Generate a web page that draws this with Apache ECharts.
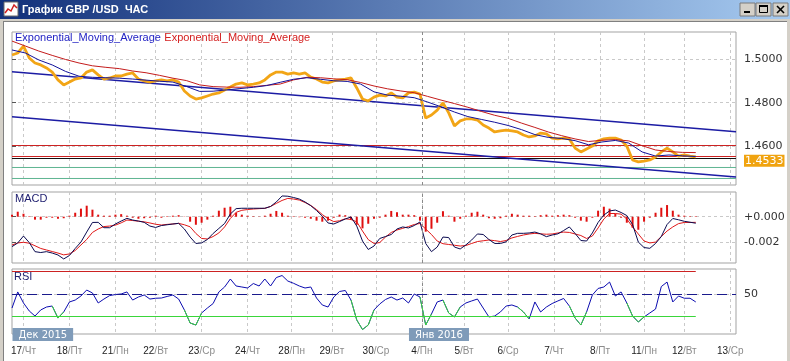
<!DOCTYPE html>
<html><head><meta charset="utf-8">
<script src="https://cdn.jsdelivr.net/npm/echarts@6/dist/echarts.min.js"></script>
<style>html,body{margin:0;padding:0;background:#fff}#c{width:790px;height:361px}</style>
</head><body><div id="c"></div>
<script>
// ---------- DATA ----------
const xMax = 378; // hourly bars covered by the plot width
const dayIdx   = [6,30,54,75,99,123,146,167,190,214,236,259,283,307,330,351,375];
const dayNums  = ['17','18','21','22','23','24','28','29','30','4','5','6','7','8','11','12','13'];
const dayNames = ['Чт','Пт','Пн','Вт','Ср','Чт','Пн','Вт','Ср','Пн','Вт','Ср','Чт','Пт','Пн','Вт','Ср'];
const monthLineIdx = 214;
const monthLabels = ['Дек 2015','Янв 2016'];
const monthBoxIdx = [0, 207];

const priceStep = 3;
const price = [
 1.5020,1.5029,1.5061,1.5006,1.4983,1.4974,1.4960,1.4941,1.4905,1.4882,
 1.4895,1.4909,1.4914,1.4941,1.4951,1.4928,1.4909,1.4914,1.4923,1.4923,
 1.4932,1.4937,1.4909,1.4900,1.4895,1.4900,1.4905,1.4900,1.4905,1.4895,
 1.4854,1.4831,1.4817,1.4822,1.4831,1.4840,1.4845,1.4859,1.4872,1.4886,
 1.4891,1.4882,1.4886,1.4891,1.4905,1.4928,1.4941,1.4941,1.4932,1.4937,
 1.4932,1.4937,1.4918,1.4909,1.4895,1.4891,1.4900,1.4905,1.4909,1.4914,
 1.4868,1.4817,1.4808,1.4826,1.4835,1.4831,1.4845,1.4826,1.4822,1.4845,
 1.4849,1.4840,1.4729,1.4743,1.4766,1.4799,1.4753,1.4693,1.4716,1.4725,
 1.4725,1.4720,1.4697,1.4683,1.4665,1.4670,1.4674,1.4670,1.4665,1.4651,
 1.4642,1.4647,1.4660,1.4656,1.4637,1.4633,1.4637,1.4633,1.4591,1.4573,
 1.4587,1.4600,1.4624,1.4633,1.4637,1.4637,1.4628,1.4600,1.4536,1.4527,
 1.4531,1.4536,1.4550,1.4573,1.4591,1.4573,1.4554,1.4559,1.4554,1.4550];

const emaStep = 7;
const emaFast = [
 1.5043,1.5029,1.4997,1.4974,1.4944,1.4922,1.4917,1.4915,1.4913,1.4909,
 1.4904,1.4899,1.4895,1.4875,1.4852,1.4853,1.4859,1.4865,1.4871,1.4879,
 1.4894,1.4908,1.4915,1.4908,1.4901,1.4898,1.4886,1.4850,1.4835,1.4830,
 1.4823,1.4803,1.4781,1.4757,1.4736,1.4723,1.4710,1.4695,1.4676,1.4653,
 1.4640,1.4635,1.4625,1.4606,1.4619,1.4626,1.4614,1.4573,1.4554,1.4559,
 1.4555,1.4552];
const emaSlow = [
 1.5084,1.5061,1.5038,1.5018,1.4999,1.4983,1.4970,1.4963,1.4957,1.4946,
 1.4938,1.4926,1.4913,1.4902,1.4882,1.4874,1.4872,1.4871,1.4874,1.4880,
 1.4886,1.4905,1.4917,1.4915,1.4910,1.4906,1.4893,1.4877,1.4864,1.4854,
 1.4846,1.4829,1.4812,1.4796,1.4779,1.4760,1.4742,1.4728,1.4706,1.4686,
 1.4665,1.4648,1.4633,1.4621,1.4627,1.4630,1.4624,1.4602,1.4582,1.4575,
 1.4571,1.4570];

const trendX = [0, 378];
const trendUpper = [1.4943, 1.4666];
const trendLower = [1.4735, 1.4458];
const levelsRed = [1.46027, 1.45520];
const levelsBlack = [1.45428];
const levelsTeal = [1.45014, 1.44507];
const lastPrice = 1.4533;
const priceTicks = [1.46, 1.48, 1.50];
const priceRange = [1.44207, 1.51258];

const macdStep = 3;
const macdMain = [
 -0.00234,-0.00205,-0.00151,-0.00202,-0.00273,-0.00280,-0.00273,-0.00284,-0.00299,-0.00330,
 -0.00303,-0.00248,-0.00198,-0.00120,-0.00045,-0.00044,-0.00086,-0.00086,-0.00057,-0.00034,
 -0.00013,-0.00026,-0.00034,-0.00044,-0.00073,-0.00084,-0.00069,-0.00063,-0.00057,-0.00052,
 -0.00096,-0.00159,-0.00209,-0.00205,-0.00178,-0.00131,-0.00092,-0.00053,0.00021,0.00063,
 0.00066,0.00066,0.00066,0.00066,0.00066,0.00080,0.00115,0.00162,0.00160,0.00150,
 0.00138,0.00115,0.00086,0.00048,0.00005,-0.00049,-0.00057,-0.00038,-0.00018,-0.00002,
 -0.00073,-0.00190,-0.00256,-0.00229,-0.00170,-0.00155,-0.00139,-0.00096,-0.00080,-0.00088,
 -0.00069,-0.00041,-0.00209,-0.00273,-0.00237,-0.00159,-0.00163,-0.00237,-0.00252,-0.00220,
 -0.00182,-0.00135,-0.00139,-0.00178,-0.00209,-0.00209,-0.00196,-0.00143,-0.00130,-0.00130,
 -0.00127,-0.00120,-0.00134,-0.00156,-0.00143,-0.00134,-0.00108,-0.00080,-0.00131,-0.00186,
 -0.00190,-0.00127,-0.00045,0.00013,0.00045,0.00052,0.00033,0.00009,-0.00061,-0.00198,
 -0.00241,-0.00247,-0.00209,-0.00155,-0.00061,-0.00014,-0.00024,-0.00036,-0.00043,-0.00051];
const macdSignal = [
 -0.00221,-0.00205,-0.00200,-0.00207,-0.00227,-0.00248,-0.00260,-0.00272,-0.00284,-0.00298,
 -0.00291,-0.00264,-0.00221,-0.00178,-0.00123,-0.00096,-0.00077,-0.00073,-0.00066,-0.00048,
 -0.00026,-0.00030,-0.00035,-0.00040,-0.00049,-0.00059,-0.00065,-0.00060,-0.00057,-0.00052,
 -0.00063,-0.00079,-0.00131,-0.00170,-0.00174,-0.00155,-0.00127,-0.00080,-0.00014,0.00034,
 0.00050,0.00056,0.00060,0.00063,0.00065,0.00080,0.00104,0.00127,0.00143,0.00138,
 0.00130,0.00111,0.00088,0.00056,0.00017,-0.00016,-0.00038,-0.00032,-0.00016,-0.00022,
 -0.00040,-0.00112,-0.00179,-0.00209,-0.00202,-0.00159,-0.00123,-0.00104,-0.00091,-0.00077,
 -0.00061,-0.00053,-0.00096,-0.00139,-0.00190,-0.00211,-0.00217,-0.00223,-0.00229,-0.00225,
 -0.00209,-0.00194,-0.00188,-0.00182,-0.00187,-0.00194,-0.00186,-0.00166,-0.00154,-0.00143,
 -0.00135,-0.00130,-0.00134,-0.00137,-0.00135,-0.00127,-0.00120,-0.00123,-0.00135,-0.00147,
 -0.00170,-0.00151,-0.00088,-0.00018,0.00025,0.00025,0.00020,-0.00018,-0.00080,-0.00135,
 -0.00190,-0.00205,-0.00198,-0.00155,-0.00112,-0.00080,-0.00054,-0.00045,-0.00045,-0.00044];
const macdHist = [
 0.00016,0.00039,0.00023,0.00004,-0.00023,-0.00023,-0.00008,-0.00008,-0.00016,-0.00012,
 0.00008,0.00031,0.00063,0.00086,0.00055,0.00016,0.00008,0.00008,0.00016,0.00020,
 0.00008,-0.00008,-0.00016,-0.00012,-0.00008,0.00008,-0.00008,0.00004,0.00008,0.00012,
 0.00002,-0.00039,-0.00063,-0.00047,-0.00023,0.00008,0.00047,0.00070,0.00078,0.00031,
 0.00016,0.00008,0.00004,0.00002,0.00008,0.00023,0.00045,0.00031,0.00008,0.00004,
 -0.00004,-0.00008,-0.00016,-0.00031,-0.00039,-0.00031,-0.00008,0.00016,0.00012,-0.00023,
 -0.00063,-0.00091,-0.00055,-0.00016,-0.00008,0.00016,0.00045,0.00035,0.00016,0.00016,
 0.00012,-0.00031,-0.00117,-0.00094,-0.00047,0.00043,0.00008,-0.00039,-0.00016,0.00008,
 0.00031,0.00039,0.00016,-0.00012,-0.00016,-0.00012,0.00008,0.00023,0.00016,0.00008,
 0.00008,0.00004,0.00012,0.00016,0.00008,0.00012,0.00016,0.00012,-0.00008,-0.00031,
 -0.00039,-0.00008,0.00047,0.00078,0.00063,0.00023,-0.00008,-0.00047,-0.00086,-0.00102,
 -0.00039,-0.00008,0.00031,0.00070,0.00091,0.00047,0.00016,0.00008,0.00004,0.00004];
const macdTicks = [-0.002, 0];
const macdRange = [-0.003617, 0.00193];

const rsiStep = 3;
const rsi = [
 37.7,52.0,42.2,35.1,30.6,36.0,38.6,39.5,28.8,34.2,
 43.1,44.8,48.4,53.7,51.1,42.2,45.7,48.8,49.7,50.2,
 52.0,44.8,47.5,49.3,45.7,46.4,46.6,48.0,49.3,45.7,
 36.0,24.4,22.6,33.3,37.7,41.7,52.0,56.4,63.5,57.3,
 56.4,55.5,59.5,57.3,63.5,57.3,64.8,66.6,61.7,59.7,
 57.3,55.5,56.4,46.6,40.4,38.6,47.5,52.4,53.3,44.8,
 27.1,18.6,22.6,36.0,41.3,45.3,47.5,44.8,46.6,42.2,
 50.2,47.5,22.6,32.4,43.1,44.8,33.3,29.8,38.6,42.2,
 44.0,45.7,37.7,29.8,30.6,34.2,39.5,40.4,38.6,34.2,
 28.0,43.1,34.2,38.6,41.7,44.0,46.2,39.5,28.8,22.6,
 34.2,49.3,55.1,56.4,60.8,48.4,52.0,42.2,30.6,25.3,
 29.8,33.3,36.8,56.8,60.8,43.1,48.4,46.4,46.4,43.1];
const rsiGreenRanges = [[7,9],[30,33],[59,63],[71,73],[75,78],[88,90],[97,100],[107,110]];
const rsiHigh = 70, rsiMid = 50, rsiLow = 30;
const rsiTicks = [50];
const rsiRange = [14.62, 72.4];

// ---------- BUILD ----------
const toXY = (arr, step) => arr.map((v, i) => [i * step, v]);
const lastIdx = (price.length - 1) * priceStep;
const rsiGreen = rsi.map((v, i) => [i * rsiStep,
  rsiGreenRanges.some(r => i >= r[0] && i <= r[1]) ? v : null]);

const gridLine = {color: '#c9c9c9', type: [3, 3], width: 1};
const monthML = () => ({xAxis: monthLineIdx, lineStyle: {color: '#8a8a8a', type: [3, 3], width: 1}});
const axisFont = 'DejaVu Sans';

function xAxisCfg(gi, labels) {
  return {
    type: 'value', gridIndex: gi, min: 0, max: xMax,
    axisLine: {show: false},
    axisTick: {show: false, customValues: dayIdx},
    splitLine: {show: true, lineStyle: gridLine},
    axisLabel: labels ? {
      customValues: dayIdx, margin: 12,
      formatter: v => {
        const i = dayIdx.indexOf(Math.round(v));
        return i < 0 ? '' : '{d|' + dayNums[i] + '}{w|/' + dayNames[i] + '}';
      },
      rich: {
        d: {color: '#222', fontFamily: 'Liberation Sans', fontSize: 10},
        w: {color: '#8c8c8c', fontFamily: 'Liberation Sans', fontSize: 10}
      }
    } : {show: false}
  };
}
function yAxisCfg(gi, range, ticks, labelVals, fmt, rich) {
  return {
    type: 'value', gridIndex: gi, position: 'right', min: range[0], max: range[1],
    axisLine: {show: false},
    axisTick: {show: true, length: 4, customValues: ticks, lineStyle: {color: '#555'}},
    splitLine: {show: true, lineStyle: gridLine},
    axisLabel: {customValues: labelVals, margin: 8, color: '#333',
      fontFamily: axisFont, fontSize: 11, formatter: fmt, rich: rich}
  };
}
const lineS = (name, xi, data, color, width, z) => ({
  name, type: 'line', xAxisIndex: xi, yAxisIndex: xi, data, showSymbol: false,
  symbol: 'none', lineStyle: {color, width}, itemStyle: {color}, z: z || 2,
  silent: true, animation: false
});
const levelS = (v, color) => lineS('level', 0, trendX.map(x => [x, v]), color, 1, 1);

const chart = echarts.init(document.getElementById('c'), null, {width: 790, height: 361});

const priceSeries = lineS('price', 0, toXY(price, priceStep), '#f2a516', 2.8, 3);
priceSeries.markLine = {silent: true, symbol: 'none', label: {show: false}, animation: false, data: [monthML()]};
const macdMainS = lineS('macd', 1, toXY(macdMain, macdStep), '#0a0a50', 1, 4);
macdMainS.markLine = {silent: true, symbol: 'none', label: {show: false}, animation: false, data: [monthML()]};
const rsiS = lineS('rsi', 2, toXY(rsi, rsiStep), '#0c0cb0', 1, 4);
rsiS.markLine = {
  silent: true, symbol: 'none', label: {show: false}, animation: false,
  data: [
    [{coord: [0, rsiHigh], lineStyle: {color: '#cc2222', width: 1, type: 'solid'}}, {coord: [lastIdx, rsiHigh]}],
    [{coord: [0, rsiLow], lineStyle: {color: '#3ad63a', width: 1, type: 'solid'}}, {coord: [lastIdx, rsiLow]}],
    {yAxis: rsiMid, lineStyle: {color: '#1a1a8c', width: 1, type: [10, 5]}},
    monthML()
  ]
};
const rsiGreenS = lineS('rsiGreen', 2, rsiGreen, '#3ad63a', 1, 5);
rsiGreenS.connectNulls = false;

const option = {
  backgroundColor: '#ffffff',
  animation: false,
  grid: [
    {left: 12, top: 32, width: 724, height: 153},
    {left: 12, top: 192, width: 724, height: 71},
    {left: 12, top: 269, width: 724, height: 65}
  ].map(g => Object.assign(g, {show: true, backgroundColor: '#fff', borderColor: '#a3a3a3', borderWidth: 1})),
  xAxis: [xAxisCfg(0, false), xAxisCfg(1, false), xAxisCfg(2, true)],
  yAxis: [
    yAxisCfg(0, priceRange, priceTicks, [...priceTicks, lastPrice],
      v => Math.abs(v - lastPrice) < 1e-7 ? '{cur|' + v.toFixed(4) + '}' : v.toFixed(4),
      {cur: {backgroundColor: '#f0a30f', color: '#fff', fontFamily: axisFont, fontSize: 11, padding: [1, 1, 0, 1]}}),
    yAxisCfg(1, macdRange, macdTicks, macdTicks,
      v => (v >= -1e-9 ? '+' + Math.abs(v).toFixed(3) : v.toFixed(3))),
    yAxisCfg(2, rsiRange, rsiTicks, rsiTicks, v => String(Math.round(v)))
  ],
  series: [
    ...levelsRed.map(v => levelS(v, '#cc2222')),
    ...levelsBlack.map(v => levelS(v, '#111111')),
    ...levelsTeal.map(v => levelS(v, '#5fb592')),
    lineS('trendUpper', 0, trendX.map((x, i) => [x, trendUpper[i]]), '#1c1ca4', 1.5, 2),
    lineS('trendLower', 0, trendX.map((x, i) => [x, trendLower[i]]), '#1c1ca4', 1.5, 2),
    priceSeries,
    lineS('emaSlow', 0, toXY(emaSlow, emaStep), '#c41c1c', 1, 4),
    lineS('emaFast', 0, toXY(emaFast, emaStep), '#12129a', 1, 4),
    {type: 'bar', xAxisIndex: 1, yAxisIndex: 1, data: toXY(macdHist, macdStep), barWidth: 2,
      itemStyle: {color: '#e01010'}, silent: true, animation: false, z: 2},
    macdMainS,
    lineS('signal', 1, toXY(macdSignal, macdStep), '#e01818', 1, 3),
    rsiS,
    rsiGreenS
  ],
  graphic: [
    {type: 'rect', shape: {x: 0, y: 0, width: 790, height: 19},
      style: {fill: new echarts.graphic.LinearGradient(0, 0, 1, 0, [{offset: 0, color: '#12307a'}, {offset: 1, color: '#a6caf0'}])}},
    {type: 'rect', shape: {x: 4, y: 2, width: 14, height: 14}, style: {fill: '#fff', stroke: '#6a6a6a', lineWidth: 1}},
    {type: 'polyline', shape: {points: [[5, 13], [8, 9], [11, 11], [14, 5], [17, 8]]}, style: {stroke: '#d02020', lineWidth: 1.5, fill: null}},
    {type: 'text', x: 22, y: 10, style: {text: 'График GBP /USD  ЧАС', fill: '#fff',
      font: 'bold 11px "Liberation Sans"', verticalAlign: 'middle'}},
    // window buttons
    ...[740, 756, 773].map(bx => ({type: 'rect', shape: {x: bx, y: 3, width: 15, height: 13},
      style: {fill: '#d4d0c8', stroke: '#7a7a7a', lineWidth: 1}})),
    {type: 'rect', shape: {x: 744, y: 11, width: 6, height: 2}, style: {fill: '#000'}},
    {type: 'rect', shape: {x: 759.5, y: 5.5, width: 8, height: 7}, style: {fill: null, stroke: '#000', lineWidth: 1}},
    {type: 'rect', shape: {x: 759, y: 5, width: 9, height: 2}, style: {fill: '#000'}},
    {type: 'line', shape: {x1: 777, y1: 6, x2: 784, y2: 13}, style: {stroke: '#000', lineWidth: 1.6}},
    {type: 'line', shape: {x1: 784, y1: 6, x2: 777, y2: 13}, style: {stroke: '#000', lineWidth: 1.6}},
    // frame
    {type: 'rect', shape: {x: 0, y: 19, width: 790, height: 2}, style: {fill: '#d4d0c8'}},
    {type: 'rect', shape: {x: 0, y: 19, width: 3, height: 342}, style: {fill: '#d4d0c8'}},
    {type: 'rect', shape: {x: 787, y: 19, width: 3, height: 342}, style: {fill: '#d4d0c8'}},
    {type: 'line', shape: {x1: 3.5, y1: 21, x2: 3.5, y2: 361}, style: {stroke: '#808080', lineWidth: 1}},
    {type: 'line', shape: {x1: 3, y1: 21.5, x2: 787, y2: 21.5}, style: {stroke: '#808080', lineWidth: 1}},
    // panel captions
    {type: 'text', x: 15, y: 38, z: 50, style: {
      text: '{b|Exponential_Moving_Average} {r|Exponential_Moving_Average}',
      verticalAlign: 'middle',
      rich: {
        b: {fill: '#2323c4', font: '11px "Liberation Sans"'},
        r: {fill: '#d42020', font: '11px "Liberation Sans"'}
      }}},
    {type: 'text', x: 15, y: 199, z: 50, style: {text: 'MACD', fill: '#1d1d6e', font: '11px "Liberation Sans"', verticalAlign: 'middle'}},
    {type: 'text', x: 14, y: 276.5, z: 50, style: {text: 'RSI', fill: '#1d1d6e', font: '11px "Liberation Sans"', verticalAlign: 'middle'}}
  ]
};
chart.setOption(option);

// month boxes placed through the RSI axes
const boxes = monthLabels.map((t, i) => {
  const x = chart.convertToPixel({xAxisIndex: 2}, monthBoxIdx[i]);
  const yb = chart.convertToPixel({yAxisIndex: 2}, rsiRange[0]);
  return {type: 'text', x: x + 0.5, y: yb - 6, z: 100, style: {
    text: t, fill: '#fff', font: '10px "DejaVu Sans"', backgroundColor: '#7f9bb9',
    padding: [2, 6, 1, 6], verticalAlign: 'top'}};
});
chart.setOption({graphic: option.graphic.concat(boxes)}, {replaceMerge: ['graphic']});
</script>
</body></html>
